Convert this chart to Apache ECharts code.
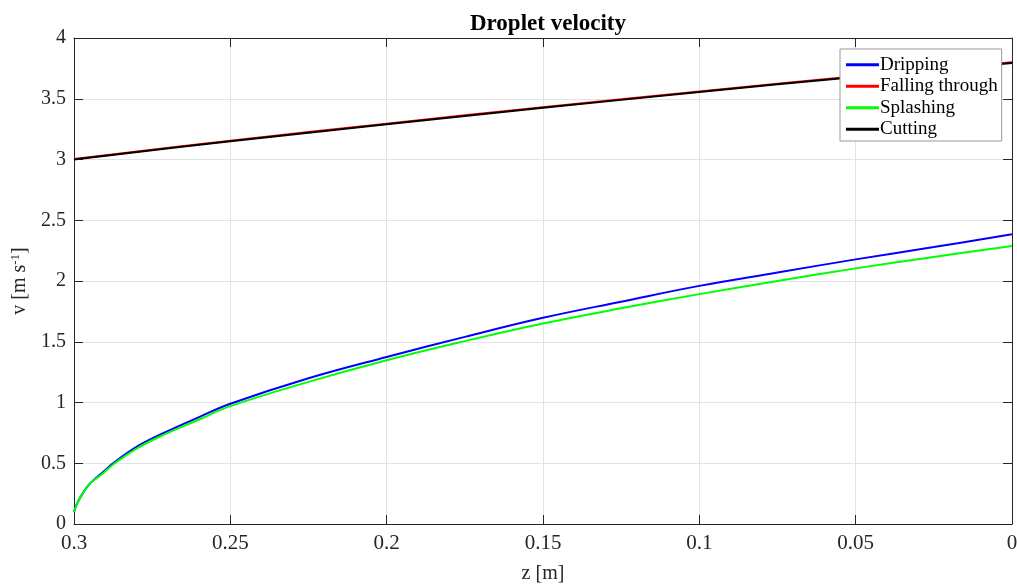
<!DOCTYPE html>
<html>
<head>
  <meta charset="utf-8">
  <title>Droplet velocity</title>
  <script src="https://cdn.jsdelivr.net/npm/echarts@6/dist/echarts.min.js"></script>
  <style>
    html, body { margin: 0; padding: 0; background: #fff; }
    #chart { width: 1017px; height: 585px; }
  </style>
</head>
<body>
<div id="chart"></div>
<script>
  // z positions (m)
  var zCurve = [0.3, 0.299, 0.297, 0.295, 0.2906, 0.2875, 0.28, 0.2725, 0.26, 0.25,
    0.225, 0.2, 0.175, 0.15, 0.125, 0.1, 0.075, 0.05, 0.025, 0];
  var vDripping = [0.10, 0.17, 0.26, 0.33, 0.43, 0.50, 0.635, 0.735, 0.88, 0.99,
    1.20, 1.375, 1.54, 1.697, 1.83, 1.96, 2.07, 2.178, 2.28, 2.384];
  var vSplashing = [0.10, 0.17, 0.26, 0.33, 0.42, 0.49, 0.62, 0.72, 0.86, 0.97,
    1.17, 1.348, 1.505, 1.65, 1.775, 1.892, 2.0, 2.104, 2.198, 2.288];

  var zLine = [0.3, 0.25, 0.2, 0.15, 0.1, 0.05, 0];
  var vFalling = [3.005, 3.155, 3.295, 3.43, 3.56, 3.685, 3.80];
  var vCutting = [3.0, 3.15, 3.29, 3.425, 3.555, 3.68, 3.795];

  function pairs(xs, ys) {
    return xs.map(function (x, i) { return [x, ys[i]]; });
  }

  var font = 'Liberation Serif, Times New Roman, serif';
  var axisColor = '#262626';

  var chart = echarts.init(document.getElementById('chart'));

  var baseX = {
    type: 'value', inverse: true, min: 0, max: 0.3, interval: 0.05,
    axisLine: { show: true, onZero: false, lineStyle: { color: axisColor, width: 1 } },
    axisTick: { show: true, inside: true, length: 9, lineStyle: { color: axisColor } },
    splitLine: { show: false }
  };
  var baseY = {
    type: 'value', min: 0, max: 4, interval: 0.5,
    axisLine: { show: true, onZero: false, lineStyle: { color: axisColor, width: 1 } },
    axisTick: { show: true, inside: true, length: 9, lineStyle: { color: axisColor } },
    splitLine: { show: false }
  };

  chart.setOption({
    animation: false,
    backgroundColor: '#fff',
    textStyle: { fontFamily: font },
    title: {
      text: 'Droplet velocity',
      left: 543, top: 8, textAlign: 'center',
      textStyle: { fontFamily: font, fontSize: 23, fontWeight: 'bold', color: '#000' }
    },
    grid: { left: 74, right: 5, top: 38, bottom: 61, outerBoundsMode: 'none', containLabel: false },
    legend: {
      orient: 'vertical', left: 840, top: 49,
      padding: [5, 4, 1, 6], itemGap: 0,
      itemWidth: 33, itemHeight: 3, icon: 'rect',
      backgroundColor: '#fff', borderColor: '#999', borderWidth: 1,
      textStyle: { fontFamily: font, fontSize: 19, color: '#000', lineHeight: 21.5, padding: [0, 0, 0, -4] },
      data: ['Dripping', 'Falling through', 'Splashing', 'Cutting']
    },
    xAxis: [
      Object.assign({}, baseX, {
        position: 'bottom',
        name: 'z [m]', nameLocation: 'middle', nameGap: 40,
        nameTextStyle: { fontFamily: font, fontSize: 20, color: '#262626' },
        axisLabel: {
          fontFamily: font, fontSize: 21, color: '#262626', margin: 9,
          formatter: function (v) { return String(+v.toFixed(2)); }
        },
        splitLine: { show: true, lineStyle: { color: '#e3e3e3', width: 1 } }
      }),
      Object.assign({}, baseX, { position: 'top', axisLabel: { show: false } })
    ],
    yAxis: [
      Object.assign({}, baseY, {
        position: 'left',
        name: 'v [m s{sup|-1}]', nameLocation: 'middle', nameGap: 32, nameRotate: 90,
        nameTextStyle: {
          fontFamily: font, fontSize: 20, color: '#262626',
          rich: { sup: { fontFamily: font, fontSize: 13, color: '#262626', verticalAlign: 'top', padding: [0, 0, 10, 0] } }
        },
        axisLabel: {
          fontFamily: font, fontSize: 20, color: '#262626', margin: 8,
          formatter: function (v) { return String(+v.toFixed(1)); }
        },
        splitLine: { show: true, lineStyle: { color: '#e3e3e3', width: 1 } }
      }),
      Object.assign({}, baseY, { position: 'right', axisLabel: { show: false } })
    ],
    series: [
      { name: 'Dripping', type: 'line', data: pairs(zCurve, vDripping), smooth: 0.4,
        showSymbol: false, lineStyle: { color: '#0000ff', width: 2 }, itemStyle: { color: '#0000ff' } },
      { name: 'Falling through', type: 'line', data: pairs(zLine, vFalling), smooth: 0.4,
        showSymbol: false, lineStyle: { color: '#ff0000', width: 2 }, itemStyle: { color: '#ff0000' } },
      { name: 'Splashing', type: 'line', data: pairs(zCurve, vSplashing), smooth: 0.4,
        showSymbol: false, lineStyle: { color: '#00ff00', width: 2 }, itemStyle: { color: '#00ff00' } },
      { name: 'Cutting', type: 'line', data: pairs(zLine, vCutting), smooth: 0.4,
        showSymbol: false, lineStyle: { color: '#000000', width: 2 }, itemStyle: { color: '#000000' } }
    ]
  });
</script>
</body>
</html>
